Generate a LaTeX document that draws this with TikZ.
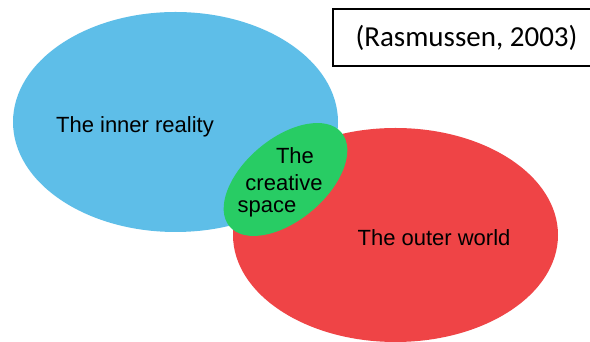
\documentclass[tikz,border=0pt]{standalone}
\usepackage{fontspec}
\setmainfont{Liberation Sans}
\newfontfamily\citefont{Carlito}
\usetikzlibrary{shapes.geometric}
\definecolor{innerblue}{RGB}{94,190,232}
\definecolor{outerred}{RGB}{239,68,70}
\definecolor{creagreen}{RGB}{40,204,100}
\tikzset{
  blob/.style={ellipse, inner sep=0pt, draw=none},
  lbl/.style={font=\fontsize{22}{26}\selectfont, inner sep=0pt, text=black},
}
\begin{document}
\begin{tikzpicture}[x=1pt,y=1pt]
\clip (0,0) rectangle (590,342);
\fill[white] (0,0) rectangle (590,342);
\node[blob, fill=innerblue, minimum width=325pt, minimum height=220pt] (inner) at (175.5,220) {};
\node[blob, fill=outerred, minimum width=325pt, minimum height=214pt] (outer) at (395.5,107) {};
\node[blob, fill=creagreen, minimum width=146pt, minimum height=82pt, rotate=40] (creative) at (285.5,162.5) {};
\node[lbl] (innerlbl) at (135,215) {The inner reality};
\node[lbl] (outerlbl) at (434,104) {The outer world};
\node[lbl] (cl1) at (295,186) {The};
\node[lbl] (cl2) at (284,159) {creative};
\node[lbl] (cl3) at (267,133) {space};
\draw[line width=1.5pt] (333,333) rectangle (600,276);
\node[font=\citefont\fontsize{29}{34}\selectfont, inner sep=0pt] (cite) at (466.5,304) {(Rasmussen, 2003)};
\end{tikzpicture}
\end{document}
